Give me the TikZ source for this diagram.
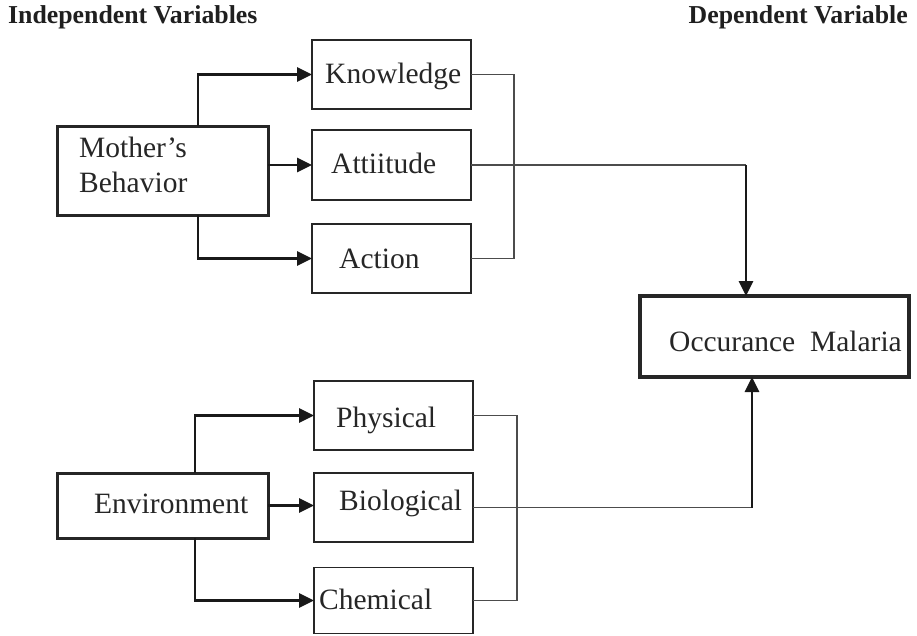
\documentclass[tikz,border=0pt]{standalone}
\usepackage{fontspec}
\setmainfont{Liberation Serif}
\usetikzlibrary{arrows.meta}
\begin{document}
\begin{tikzpicture}[x=1pt,y=-1pt,
  boxbase/.style={draw=black!85, rectangle, inner sep=0pt, outer sep=0pt},
  thickbox/.style={boxbase, line width=3pt},
  thinbox/.style={boxbase, line width=1.5pt},
  txt/.style={inner sep=0pt, anchor=base west, text=black!85, font=\fontsize{29.5}{35}\selectfont},
  hdr/.style={inner sep=0pt, text=black!88, font=\fontsize{25.8}{30}\selectfont\bfseries},
  arr/.style={line width=2.8pt, draw=black!90, -{Triangle[length=15pt,width=14pt]}},
  thinline/.style={line width=1.5pt, draw=black!70}]
\useasboundingbox (0,0) rectangle (917,635);

% headers
\node[hdr, anchor=base west] (h1) at (8,23) {Independent Variables};
\node[hdr, anchor=base east] (h2) at (908,23) {Dependent Variable};

% boxes
\node[thickbox, minimum width=211pt, minimum height=89pt] (mb) at (162.5,170.5) {};
\node[thinbox, minimum width=159pt, minimum height=69pt] (know) at (391.5,74.5) {};
\node[thinbox, minimum width=159pt, minimum height=70pt] (att) at (391.5,165) {};
\node[thinbox, minimum width=159pt, minimum height=69pt] (act) at (391.5,258.5) {};
\node[thickbox, line width=3.4pt, minimum width=269pt, minimum height=81pt] (occ) at (774.5,336.5) {};
\node[thickbox, minimum width=211pt, minimum height=65pt] (env) at (162.5,505.5) {};
\node[thinbox, minimum width=159pt, minimum height=69pt] (phy) at (393.5,415.5) {};
\node[thinbox, minimum width=159pt, minimum height=69pt] (bio) at (393.5,507.5) {};
\node[thinbox, minimum width=159pt, minimum height=66pt] (chem) at (393.5,600.5) {};

% texts
\node[txt] (t1a) at (79,157) {Mother’s};
\node[txt] (t1b) at (79,192) {Behavior};
\node[txt] (t2) at (325,83) {Knowledge};
\node[txt] (t3) at (331,173) {Attiitude};
\node[txt] (t4) at (339,268) {Action};
\node[txt] (t5) at (669,351) {Occurance\hspace{0.5em}Malaria};
\node[txt] (t6) at (94,513) {Environment};
\node[txt] (t7) at (336,427) {Physical};
\node[txt] (t8) at (339,510) {Biological};
\node[txt] (t9) at (319,609) {Chemical};

% arrows from Mother's Behavior
\draw[arr] ([xshift=35.5pt]mb.north) |- (know.west);
\draw[arr] (mb.east |- att.west) -- (att.west);
\draw[arr] ([xshift=35.5pt]mb.south) |- (act.west);

% arrows from Environment
\draw[arr] ([xshift=32.5pt]env.north) |- (phy.west);
\draw[arr] (env.east) -- (env.east -| bio.west);
\draw[arr] ([xshift=32.5pt]env.south) |- (chem.west);

% brackets
\coordinate (bt) at (514,0);
\draw[thinline] (know.east) -| (bt |- act.east) -- (act.east);
\coordinate (bb) at (517,0);
\draw[thinline] (phy.east) -| (bb |- chem.east) -- (chem.east);

% to outcome
\coordinate (c1) at (746,0);
\draw[thinline] (att.east) -- (att.east -| c1);
\draw[arr] (att.east -| c1) -- (occ.north -| c1);
\coordinate (c2) at (752,0);
\draw[thinline] (bio.east) -- (bio.east -| c2);
\draw[arr] (bio.east -| c2) -- (occ.south -| c2);
\end{tikzpicture}
\end{document}
